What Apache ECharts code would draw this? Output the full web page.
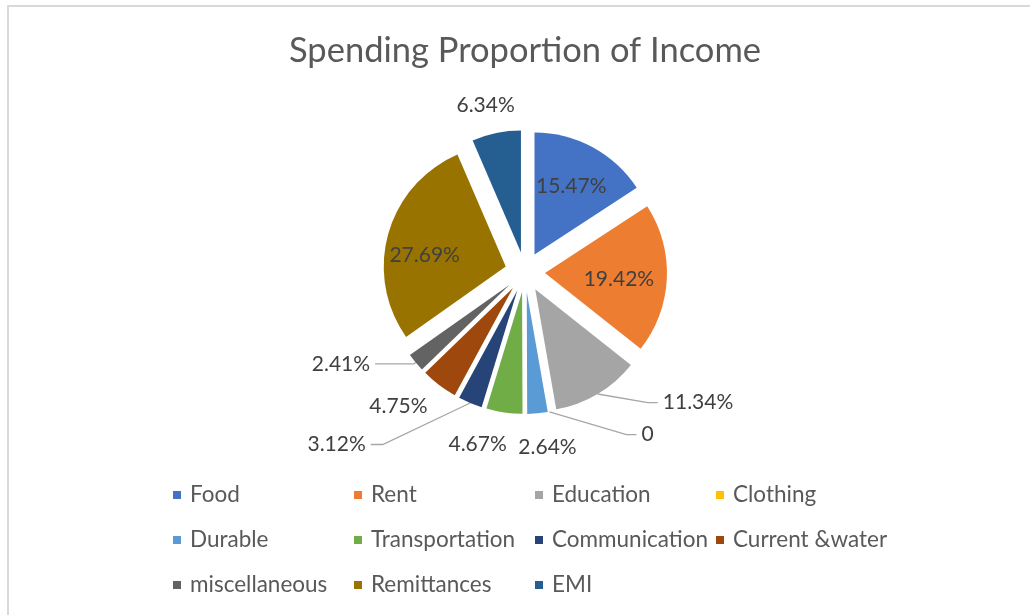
<!DOCTYPE html>
<html>
<head>
<meta charset="utf-8">
<script src="https://cdn.jsdelivr.net/npm/echarts@6/dist/echarts.min.js"></script>
<style>
  html, body { margin: 0; padding: 0; background: #ffffff; }
  #chart { width: 1030px; height: 615px; }
</style>
</head>
<body>
<div id="chart"></div>
<script>
// Spending categories and their share of income (%)
const categories = ['Food', 'Rent', 'Education', 'Clothing', 'Durable', 'Transportation',
  'Communication', 'Current &water', 'miscellaneous', 'Remittances', 'EMI'];
const shares = [15.47, 19.42, 11.34, 0, 2.64, 4.67, 3.12, 4.75, 2.41, 27.69, 6.34];
const sliceColors = ['#4472C4', '#ED7D31', '#A5A5A5', '#FFC000', '#5B9BD5', '#70AD47',
  '#264478', '#9E480E', '#636363', '#997300', '#255E91'];
const legendColumns = [
  ['Food', 'Durable', 'miscellaneous'],
  ['Rent', 'Transportation', 'Remittances'],
  ['Education', 'Communication', 'EMI'],
  ['Clothing', 'Current &water']
];

const FONT = 'Lato, "Open Sans", sans-serif';
const TEXT_DARK = '#404040';
const TEXT_MID = '#595959';

// How each label is placed: inside the slice, or outside with a leader line
// (len / len2 are the two leader segments; hidden leaders just park the text).
// "slant" bends the leader straight from the slice towards the text.
const labelSetup = {
  'Food':           { inside: true },
  'Rent':           { inside: true, nudge: [-3, 3] },
  'Education':      { len: 10, len2: 55, line: true, slant: 10 },
  'Clothing':       { len: 23, len2: 83, line: true, slant: 10 },
  'Durable':        { len: 34, len2: 2, line: false, center: true },
  'Transportation': { len: 32, len2: 17, line: false, center: true },
  'Communication':  { len: 45, len2: 82, line: true, slant: 12 },
  'Current &water': { len: 26, len2: 20, line: false, center: true },
  'miscellaneous':  { len: 2, len2: 39, line: true },
  'Remittances':    { inside: true, nudge: [-7, 10] },
  'EMI':            { len: 28, len2: 0, line: false, center: true }
};

// Mid angle of each slice (radians, clockwise from 12 o'clock)
const total = shares.reduce((a, b) => a + b, 0);
const midAngles = [];
let acc = 0;
shares.forEach(v => { midAngles.push((acc + v / 2) / total * Math.PI * 2); acc += v; });

const INSIDE_PUSH = 13;

function fmt(v) { return v === 0 ? '0' : v.toFixed(2) + '%'; }

const pieData = categories.map((name, i) => {
  const s = labelSetup[name];
  const item = {
    name: name,
    value: shares[i],
    selected: true,
    itemStyle: { color: sliceColors[i] }
  };
  if (s.inside) {
    item.label = { position: 'inside' };
    item.labelLine = { show: false };
  } else {
    item.label = { position: 'outside' };
    item.labelLine = { show: s.line, length: s.len, length2: s.len2 };
  }
  return item;
});

const legends = legendColumns.map((col, c) => ({
  orient: 'vertical',
  left: [173, 354, 535, 716][c],
  top: 482,
  padding: 0,
  data: col,
  icon: 'rect',
  itemWidth: 8,
  itemHeight: 8,
  itemGap: 19,
  selectedMode: false,
  textStyle: {
    fontFamily: FONT,
    fontSize: 22.5,
    lineHeight: 26,
    color: TEXT_MID,
    padding: [0, 0, 0, 4]
  }
}));

const chart = echarts.init(document.getElementById('chart'), null, { renderer: 'canvas' });
chart.setOption({
  animation: false,
  backgroundColor: '#ffffff',
  title: {
    text: 'Spending Proportion of Income',
    left: 520,
    textAlign: 'center',
    top: 28,
    textStyle: { fontFamily: FONT, fontSize: 34.5, fontWeight: 'normal', color: TEXT_MID }
  },
  legend: legends,
  graphic: [{
    type: 'rect',
    silent: true,
    shape: { x: 8, y: 6, width: 1200, height: 800 },
    style: { fill: 'none', stroke: '#d9d9d9', lineWidth: 2 }
  }],
  series: [{
    type: 'pie',
    center: [525, 272],
    radius: [0, 122],
    startAngle: 90,
    clockwise: true,
    selectedMode: 'multiple',
    selectedOffset: 20,
    avoidLabelOverlap: false,
    emphasis: { disabled: true },
    select: { itemStyle: { borderWidth: 0 } },
    itemStyle: { borderWidth: 0 },
    label: {
      show: true,
      formatter: p => fmt(p.value),
      fontFamily: FONT,
      fontSize: 21,
      color: TEXT_DARK,
      distanceToLabelLine: 5
    },
    labelLine: {
      lineStyle: { color: '#a6a6a6', width: 1.3 },
      minTurnAngle: 60
    },
    labelLayout: function (p) {
      const s = labelSetup[categories[p.dataIndex]];
      if (s.inside) {
        const a = midAngles[p.dataIndex];
        const n = s.nudge || [0, 0];
        return { dx: INSIDE_PUSH * Math.sin(a) + n[0], dy: -INSIDE_PUSH * Math.cos(a) + n[1] };
      }
      if (s.center) return { align: 'center' };
      const pts = p.labelLinePoints;
      if (s.slant && pts && pts.length === 3) {
        const end = pts[2];
        const dir = end[0] < pts[1][0] ? 1 : -1;
        return { labelLinePoints: [pts[0], [end[0] + dir * s.slant, end[1]], end] };
      }
      return {};
    },
    data: pieData
  }]
});
</script>
</body>
</html>
